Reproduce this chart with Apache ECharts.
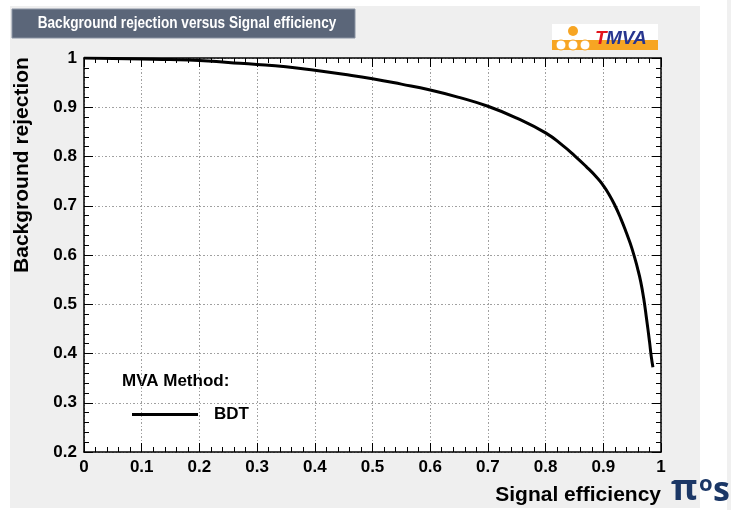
<!DOCTYPE html>
<html>
<head>
<meta charset="utf-8">
<script src="https://cdn.jsdelivr.net/npm/echarts@6/dist/echarts.min.js"></script>
<style>
  html, body { margin: 0; padding: 0; background: #ffffff; }
  #panel { position: absolute; left: 10px; top: 6px; width: 690px; height: 502px; background: #efefef; }
  #edge { position: absolute; left: 727px; top: 0; width: 4px; height: 510px; background: #f0f0f0; }
  #chart { position: absolute; left: 0; top: 0; width: 731px; height: 510px; }
</style>
</head>
<body>
<div id="panel"></div>
<div id="edge"></div>
<div id="chart"></div>
<script>
// ROC curve of the BDT classifier: signal efficiency vs background rejection
const signalEff = [0, 0.05, 0.1, 0.15, 0.2, 0.25, 0.3, 0.35, 0.4, 0.45, 0.5, 0.55, 0.6, 0.65, 0.7, 0.75,
  0.8, 0.83, 0.85, 0.87, 0.89, 0.9, 0.91, 0.92, 0.93, 0.94, 0.95, 0.96, 0.965, 0.97, 0.975, 0.98, 0.983, 0.986];
const bkgRejection = [1.0, 0.999, 0.998, 0.997, 0.995, 0.991, 0.987, 0.982, 0.975, 0.967, 0.958, 0.947, 0.935, 0.920, 0.902, 0.878,
  0.848, 0.822, 0.802, 0.780, 0.756, 0.741, 0.723, 0.701, 0.675, 0.645, 0.612, 0.570, 0.545, 0.512, 0.470, 0.425, 0.395, 0.372];

const methodName = 'BDT';
const chartTitle = 'Background rejection versus Signal efficiency';
const xTitle = 'Signal efficiency';
const yTitle = 'Background rejection';
const legendHeader = 'MVA Method:';

const rocPoints = signalEff.map((x, i) => [x, bkgRejection[i]]);

const FONT = "'Liberation Sans', Arial, Helvetica, sans-serif";
const tickLabel = { fontFamily: FONT, fontWeight: 'bold', fontSize: 17, color: '#000' };
const gridLine = { show: true, lineStyle: { color: '#a0a0a0', width: 1, type: [2, 2, 1, 2] } };
const frameLine = { show: true, onZero: false, lineStyle: { color: '#000', width: 1.5 } };
const majorTick = { show: true, inside: true, length: 9, lineStyle: { color: '#000', width: 1 } };
const minorTick = { show: true, splitNumber: 5, length: 5, lineStyle: { color: '#000', width: 1 } };

function axisX(pos, labels) {
  return {
    type: 'value', position: pos, min: 0, max: 1, interval: 0.1,
    axisLine: frameLine, axisTick: majorTick, minorTick: minorTick,
    axisLabel: { show: labels, margin: 7, ...tickLabel },
    splitLine: labels ? gridLine : { show: false }
  };
}
function axisY(pos, labels) {
  return {
    type: 'value', position: pos, min: 0.2, max: 1, interval: 0.1,
    axisLine: frameLine, axisTick: majorTick, minorTick: minorTick,
    axisLabel: { show: labels, margin: 7, ...tickLabel },
    splitLine: labels ? gridLine : { show: false }
  };
}

const chart = echarts.init(document.getElementById('chart'), null, { renderer: 'canvas' });
chart.setOption({
  backgroundColor: 'transparent',
  animation: false,
  grid: { left: 84, top: 58, width: 577, height: 394, show: true, backgroundColor: '#ffffff', borderWidth: 0, containLabel: false },
  xAxis: [axisX('bottom', true), axisX('top', false)],
  yAxis: [axisY('left', true), axisY('right', false)],
  legend: {
    left: 127, top: 401, orient: 'vertical',
    icon: 'rect', itemWidth: 66, itemHeight: 3,
    textStyle: { fontFamily: FONT, fontWeight: 'bold', fontSize: 17, color: '#000', padding: [0, 0, 0, 11] },
    data: [methodName]
  },
  series: [{
    name: methodName, type: 'line', data: rocPoints,
    xAxisIndex: 0, yAxisIndex: 0,
    showSymbol: false, symbol: 'none', smooth: 0.5,
    lineStyle: { color: '#000', width: 3 }, itemStyle: { color: '#000' }, z: 5
  }],
  graphic: [
    // title box
    { type: 'rect', shape: { x: 12, y: 9, width: 343, height: 29 }, style: { fill: '#5b6679', stroke: '#8a93a3', lineWidth: 1 } },
    { type: 'text', x: 187, y: 23, scaleX: 0.8, style: { text: chartTitle, fill: '#ffffff', font: 'bold 17px ' + FONT, textAlign: 'center', textVerticalAlign: 'middle' } },
    // TMVA badge
    { type: 'rect', shape: { x: 552, y: 24, width: 106, height: 16 }, style: { fill: '#ffffff' } },
    { type: 'rect', shape: { x: 552, y: 40, width: 106, height: 10 }, style: { fill: '#f7a523' } },
    { type: 'line', shape: { x1: 561, y1: 44, x2: 585, y2: 44 }, style: { stroke: '#f7a523', lineWidth: 2 } },
    { type: 'circle', shape: { cx: 573, cy: 31, r: 5 }, style: { fill: '#f7a523' } },
    { type: 'circle', shape: { cx: 561, cy: 45, r: 5 }, style: { fill: '#ffffff', stroke: '#f7a523', lineWidth: 1 } },
    { type: 'circle', shape: { cx: 573, cy: 45, r: 5 }, style: { fill: '#ffffff', stroke: '#f7a523', lineWidth: 1 } },
    { type: 'circle', shape: { cx: 585, cy: 45, r: 5 }, style: { fill: '#ffffff', stroke: '#f7a523', lineWidth: 1 } },
    { type: 'text', x: 595, y: 48, style: { text: 'T', fill: '#e3141c', font: 'italic bold 19px ' + FONT, textVerticalAlign: 'bottom' } },
    { type: 'text', x: 606, y: 48, style: { text: 'MVA', fill: '#27358f', font: 'italic bold 19px ' + FONT, textVerticalAlign: 'bottom' } },
    // axis titles
    { type: 'text', x: 22, y: 165, rotation: Math.PI / 2, style: { text: yTitle, fill: '#000', font: 'bold 21px ' + FONT, textAlign: 'center', textVerticalAlign: 'middle' } },
    { type: 'text', x: 661, y: 495, style: { text: xTitle, fill: '#000', font: 'bold 21px ' + FONT, textAlign: 'right', textVerticalAlign: 'middle' } },
    // legend header
    { type: 'text', x: 122, y: 381, style: { text: legendHeader, fill: '#000', font: 'bold 17px ' + FONT, textVerticalAlign: 'middle' } },
    // particle label at bottom right
    { type: 'text', x: 671, y: 508, style: { text: 'π', fill: '#1b3766', font: 'bold 36px "Open Sans", sans-serif', textVerticalAlign: 'bottom' } },
    { type: 'text', x: 699, y: 496, style: { text: 'o', fill: '#1b3766', font: 'bold 22px "Open Sans", sans-serif', textVerticalAlign: 'bottom' } },
    { type: 'text', x: 713, y: 508, style: { text: 's', fill: '#1b3766', font: 'bold 34px "Open Sans", sans-serif', textVerticalAlign: 'bottom' } }
  ]
});
</script>
</body>
</html>
